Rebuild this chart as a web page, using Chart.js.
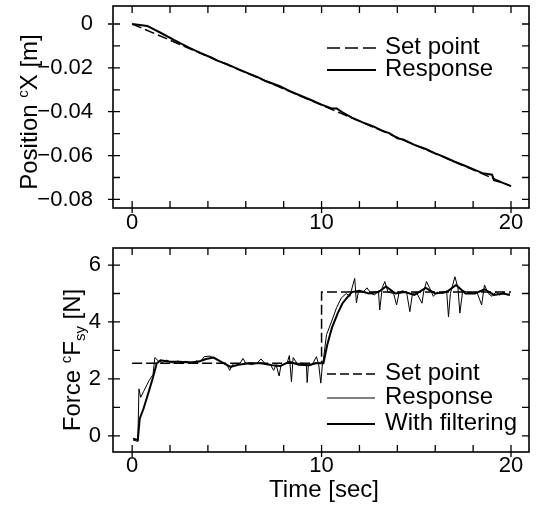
<!DOCTYPE html>
<html>
<head>
<meta charset="utf-8">
<script src="https://cdn.jsdelivr.net/npm/chart.js@4.4.0/dist/chart.umd.min.js"></script>
<style>
  html, body { margin: 0; padding: 0; background: #fff; }
  #wrap { position: relative; width: 536px; height: 507px; }
  .box { position: absolute; left: 0; width: 536px; }
  #top { top: 0; height: 240px; }
  #bot { top: 240px; height: 267px; }
</style>
</head>
<body>
<div id="wrap">
  <div class="box" id="top"><canvas id="posChart" width="536" height="240"></canvas></div>
  <div class="box" id="bot"><canvas id="forceChart" width="536" height="267"></canvas></div>
</div>
<script>
// ---- data ----
const timeTickLabels = [0, 10, 20];
const posTickLabels = [0, -0.02, -0.04, -0.06, -0.08];
const forceTickLabels = [0, 2, 4, 6];

// position (top)
const posSetTime = [0, 20];
const posSetValue = [0, -0.0739];
const posRespTime = [0, 0.8, 1.5, 2.2, 3.0, 3.6, 4.2, 4.5, 5.0, 5.6, 6.1, 6.6, 7.0, 7.3, 7.8, 8.3, 8.9, 9.5, 10.0,
  10.5, 10.8, 11.1, 11.6, 12.2, 12.7, 13.2, 13.6, 14.0, 14.3, 14.9, 15.5, 16.0, 16.5, 17.0, 17.5, 18.0, 18.5,
  19.0, 19.1, 19.5, 20.0];
const posRespValue = [0, -0.0009, -0.0040, -0.0072, -0.0108, -0.0132, -0.0154, -0.0167, -0.0183, -0.0206, -0.0224,
  -0.0241, -0.0258, -0.0268, -0.0284, -0.0305, -0.0327, -0.0349, -0.0368, -0.0384, -0.0385, -0.0403, -0.0427,
  -0.0450, -0.0466, -0.0486, -0.0499, -0.0521, -0.0527, -0.0551, -0.0570, -0.0590, -0.0607, -0.0627, -0.0644,
  -0.0662, -0.0680, -0.0687, -0.0712, -0.0722, -0.0739];

// force (bottom)
const forceSetTime = [0, 10, 10, 20];
const forceSetValue = [2.55, 2.55, 5.05, 5.05];
const forceRespTime = [0.05, 0.3, 0.36, 0.45, 0.6, 0.9, 1.1, 1.2, 1.4, 1.6, 1.8, 2.0, 2.2, 2.4, 2.6, 2.8, 3.0, 3.2,
  3.4, 3.6, 3.8, 4.1, 4.4, 4.6, 4.8, 5.0, 5.15, 5.3, 5.5, 5.7, 5.85, 6.0, 6.3, 6.6, 6.8, 7.0, 7.3, 7.47, 7.6, 7.76,
  7.85, 8.0, 8.2, 8.3, 8.41, 8.5, 8.7, 9.0, 9.2, 9.24, 9.3, 9.5, 9.73, 9.85, 9.96, 10.05, 10.1, 10.26, 10.52, 10.79,
  11.05, 11.3, 11.5, 11.65, 11.75, 11.84, 11.95, 12.2, 12.4, 12.6, 12.8, 13.0, 13.07, 13.2, 13.34, 13.5, 13.8,
  13.96, 14.1, 14.3, 14.5, 14.66, 14.8, 15.0, 15.3, 15.4, 15.54, 15.7, 15.9, 16.1, 16.4, 16.6, 16.7, 16.8, 17.04,
  17.2, 17.3, 17.45, 17.7, 18.0, 18.2, 18.45, 18.6, 18.8, 19.0, 19.2, 19.4, 19.6, 19.8, 19.94];
const forceRespValue = [-0.15, -0.2, 1.65, 1.35, 1.55, 1.95, 2.15, 2.75, 2.62, 2.58, 2.66, 2.6, 2.55, 2.63, 2.57,
  2.62, 2.6, 2.55, 2.64, 2.6, 2.78, 2.8, 2.72, 2.65, 2.55, 2.5, 2.3, 2.5, 2.45, 2.55, 2.72, 2.55, 2.5, 2.55, 2.7,
  2.55, 2.5, 2.3, 2.5, 2.1, 2.45, 2.5, 2.6, 2.82, 1.9, 2.75, 2.55, 2.55, 2.5, 1.87, 2.45, 2.5, 2.78, 2.5, 1.85,
  2.55, 2.7, 3.55, 4.0, 4.5, 4.85, 5.0, 4.9, 5.3, 5.53, 4.67, 5.1, 5.05, 5.2, 5.0, 4.95, 5.1, 4.42, 5.2, 5.42,
  5.05, 5.0, 4.6, 5.05, 5.1, 5.0, 4.36, 5.0, 5.05, 4.66, 5.1, 5.42, 5.2, 4.9, 5.05, 5.0, 5.1, 4.18, 5.0, 5.59,
  5.2, 4.31, 5.1, 5.05, 5.0, 5.05, 4.6, 5.3, 5.0, 4.9, 5.05, 4.95, 5.05, 4.95, 5.0];
const forceFiltTime = [0.05, 0.3, 0.4, 0.6, 0.9, 1.1, 1.3, 1.5, 2.0, 2.5, 3.0, 3.5, 3.9, 4.3, 4.7, 5.2, 5.6, 6.2,
  6.8, 7.4, 7.8, 8.3, 8.8, 9.3, 9.7, 10.1, 10.3, 10.55, 10.85, 11.1, 11.4, 11.6, 12.0, 12.5, 13.0, 13.4, 13.9,
  14.4, 14.9, 15.5, 16.0, 16.6, 17.1, 17.6, 18.1, 18.6, 19.1, 19.6, 19.94];
const forceFiltValue = [-0.1, -0.15, 0.6, 0.95, 1.6, 2.05, 2.55, 2.65, 2.6, 2.6, 2.58, 2.6, 2.7, 2.75, 2.6, 2.42,
  2.5, 2.55, 2.55, 2.48, 2.45, 2.6, 2.5, 2.48, 2.55, 2.55, 3.2, 3.8, 4.3, 4.65, 4.9, 5.05, 5.1, 5.0, 5.05, 5.25,
  5.0, 5.05, 4.95, 5.2, 5.0, 5.05, 5.3, 5.0, 5.0, 5.15, 4.95, 5.0, 4.95];

const pairs = (xs, ys) => xs.map((x, i) => ({ x: x, y: ys[i] }));
const FONT = '"Liberation Sans", Arial, Helvetica, sans-serif';
Chart.defaults.font.family = FONT;
Chart.defaults.color = '#000';

// frame + inward ticks on all four sides
const frameTicks = {
  id: 'frameTicks',
  afterDraw(chart) {
    const { ctx, chartArea: a, scales: { x, y } } = chart;
    ctx.save();
    ctx.strokeStyle = '#000';
    ctx.lineWidth = 1.6;
    ctx.strokeRect(a.left, a.top, a.right - a.left, a.bottom - a.top);
    ctx.lineWidth = 1.3;
    ctx.beginPath();
    x.ticks.forEach(t => {
      const p = x.getPixelForValue(t.value);
      ctx.moveTo(p, a.bottom + (t.label ? 5 : 0)); ctx.lineTo(p, a.bottom - 7);
      ctx.moveTo(p, a.top); ctx.lineTo(p, a.top + 7);
    });
    y.ticks.forEach(t => {
      const p = y.getPixelForValue(t.value);
      ctx.moveTo(a.left - (t.label ? 5 : 0), p); ctx.lineTo(a.left + 7, p);
      ctx.moveTo(a.right, p); ctx.lineTo(a.right - 7, p);
    });
    ctx.stroke();
    ctx.restore();
  }
};

// legend drawn inside the plot box
const innerLegend = {
  id: 'innerLegend',
  afterDraw(chart, args, o) {
    const ctx = chart.ctx;
    ctx.save();
    ctx.font = o.size + 'px ' + FONT;
    ctx.fillStyle = '#000';
    ctx.textBaseline = 'middle';
    chart.data.datasets.forEach((ds, i) => {
      const yy = o.rows[i];
      ctx.strokeStyle = '#000';
      ctx.lineWidth = ds.borderWidth;
      ctx.setLineDash(o.dash && ds.borderDash ? o.dash : []);
      ctx.beginPath();
      ctx.moveTo(o.x0, yy + 1); ctx.lineTo(o.x1, yy + 1);
      ctx.stroke();
      ctx.setLineDash([]);
      ctx.fillText(ds.label, o.textX, yy);
    });
    ctx.restore();
  }
};

// axis titles with super/subscripts
const axisText = {
  id: 'axisText',
  afterDraw(chart, args, o) {
    const ctx = chart.ctx;
    const width = parts => parts.reduce((w, p) => {
      ctx.font = p.size + 'px ' + FONT;
      return w + ctx.measureText(p.text).width;
    }, 0);
    const run = (parts, x0, y0) => {
      let x = x0;
      parts.forEach(p => {
        ctx.font = p.size + 'px ' + FONT;
        ctx.fillText(p.text, x, y0 - (p.rise || 0));
        x += ctx.measureText(p.text).width;
      });
    };
    ctx.save();
    ctx.fillStyle = '#000';
    ctx.textBaseline = 'alphabetic';
    if (o.y) {
      ctx.save();
      ctx.translate(o.y.x, o.y.y);
      ctx.rotate(-Math.PI / 2);
      run(o.y.parts, -width(o.y.parts) / 2, 0);
      ctx.restore();
    }
    if (o.x) run(o.x.parts, o.x.x - width(o.x.parts) / 2, o.x.y);
    ctx.restore();
  }
};

const showTick = list => v => list.some(l => Math.abs(l - v) < 1e-9) ?
  (Math.abs(v) < 1e-9 ? '0' : String(v).replace('-', '\u2212')) : '';

// keep the plot box where the picture has it
const noPad = s => { s.paddingTop = 0; s.paddingBottom = 0; s.paddingLeft = 0; s.paddingRight = 0; };

const xScale = (height, pad) => ({
  type: 'linear', min: -1.01, max: 20.95,
  grid: { display: false }, border: { display: false },
  ticks: { stepSize: 2, includeBounds: false, autoSkip: false, maxRotation: 0, padding: pad,
    font: { size: 22 }, callback: showTick(timeTickLabels) },
  afterFit: s => { s.height = height; noPad(s); }
});

new Chart(document.getElementById('posChart'), {
  type: 'line',
  data: {
    datasets: [
      { label: 'Set point', data: pairs(posSetTime, posSetValue), borderColor: '#000',
        borderWidth: 1.5, borderDash: [10, 4], pointRadius: 0 },
      { label: 'Response', data: pairs(posRespTime, posRespValue), borderColor: '#000',
        borderWidth: 2, pointRadius: 0 }
    ]
  },
  options: {
    responsive: false, animation: false,
    layout: { padding: { left: 0, right: 7, top: 6, bottom: 0 } },
    scales: {
      x: xScale(32, -6),
      y: { type: 'linear', min: -0.0839, max: 0.0082,
        grid: { display: false }, border: { display: false },
        ticks: { stepSize: 0.01, includeBounds: false, autoSkip: false, padding: 12,
          font: { size: 22 }, callback: showTick(posTickLabels) },
        afterFit: s => { s.width = 113; noPad(s); } }
    },
    plugins: {
      legend: { display: false }, tooltip: { enabled: false },
      innerLegend: { x0: 327, x1: 376, textX: 385, rows: [47, 69], size: 24, dash: [13, 5] },
      axisText: { y: { x: 37, y: 112, parts: [
        { text: 'Position ', size: 24 }, { text: 'c', size: 15, rise: 9 }, { text: 'X [m]', size: 24 }] } }
    }
  },
  plugins: [frameTicks, innerLegend, axisText]
});

new Chart(document.getElementById('forceChart'), {
  type: 'line',
  data: {
    datasets: [
      { label: 'Set point', data: pairs(forceSetTime, forceSetValue), borderColor: '#000',
        borderWidth: 1.5, borderDash: [10, 4], pointRadius: 0 },
      { label: 'Response', data: pairs(forceRespTime, forceRespValue), borderColor: '#000',
        borderWidth: 1, pointRadius: 0 },
      { label: 'With filtering', data: pairs(forceFiltTime, forceFiltValue), borderColor: '#000',
        borderWidth: 2, pointRadius: 0 }
    ]
  },
  options: {
    responsive: false, animation: false,
    layout: { padding: { left: 0, right: 7, top: 8, bottom: 0 } },
    scales: {
      x: xScale(55, -7),
      y: { type: 'linear', min: -0.57, max: 6.6,
        grid: { display: false }, border: { display: false },
        ticks: { stepSize: 1, includeBounds: false, autoSkip: false, padding: 4,
          font: { size: 22 }, callback: showTick(forceTickLabels) },
        afterFit: s => { s.width = 113; noPad(s); } }
    },
    plugins: {
      legend: { display: false }, tooltip: { enabled: false },
      innerLegend: { x0: 327, x1: 375, textX: 385, rows: [133, 157, 183], size: 24, dash: [9, 4] },
      axisText: {
        y: { x: 80, y: 120, parts: [
          { text: 'Force ', size: 24 }, { text: 'c', size: 15, rise: 9 }, { text: 'F', size: 24 },
          { text: 'sy', size: 15, rise: -5 }, { text: ' [N]', size: 24 }] },
        x: { x: 324, y: 257, parts: [{ text: 'Time [sec]', size: 24 }] }
      }
    }
  },
  plugins: [frameTicks, innerLegend, axisText]
});
</script>
</body>
</html>
